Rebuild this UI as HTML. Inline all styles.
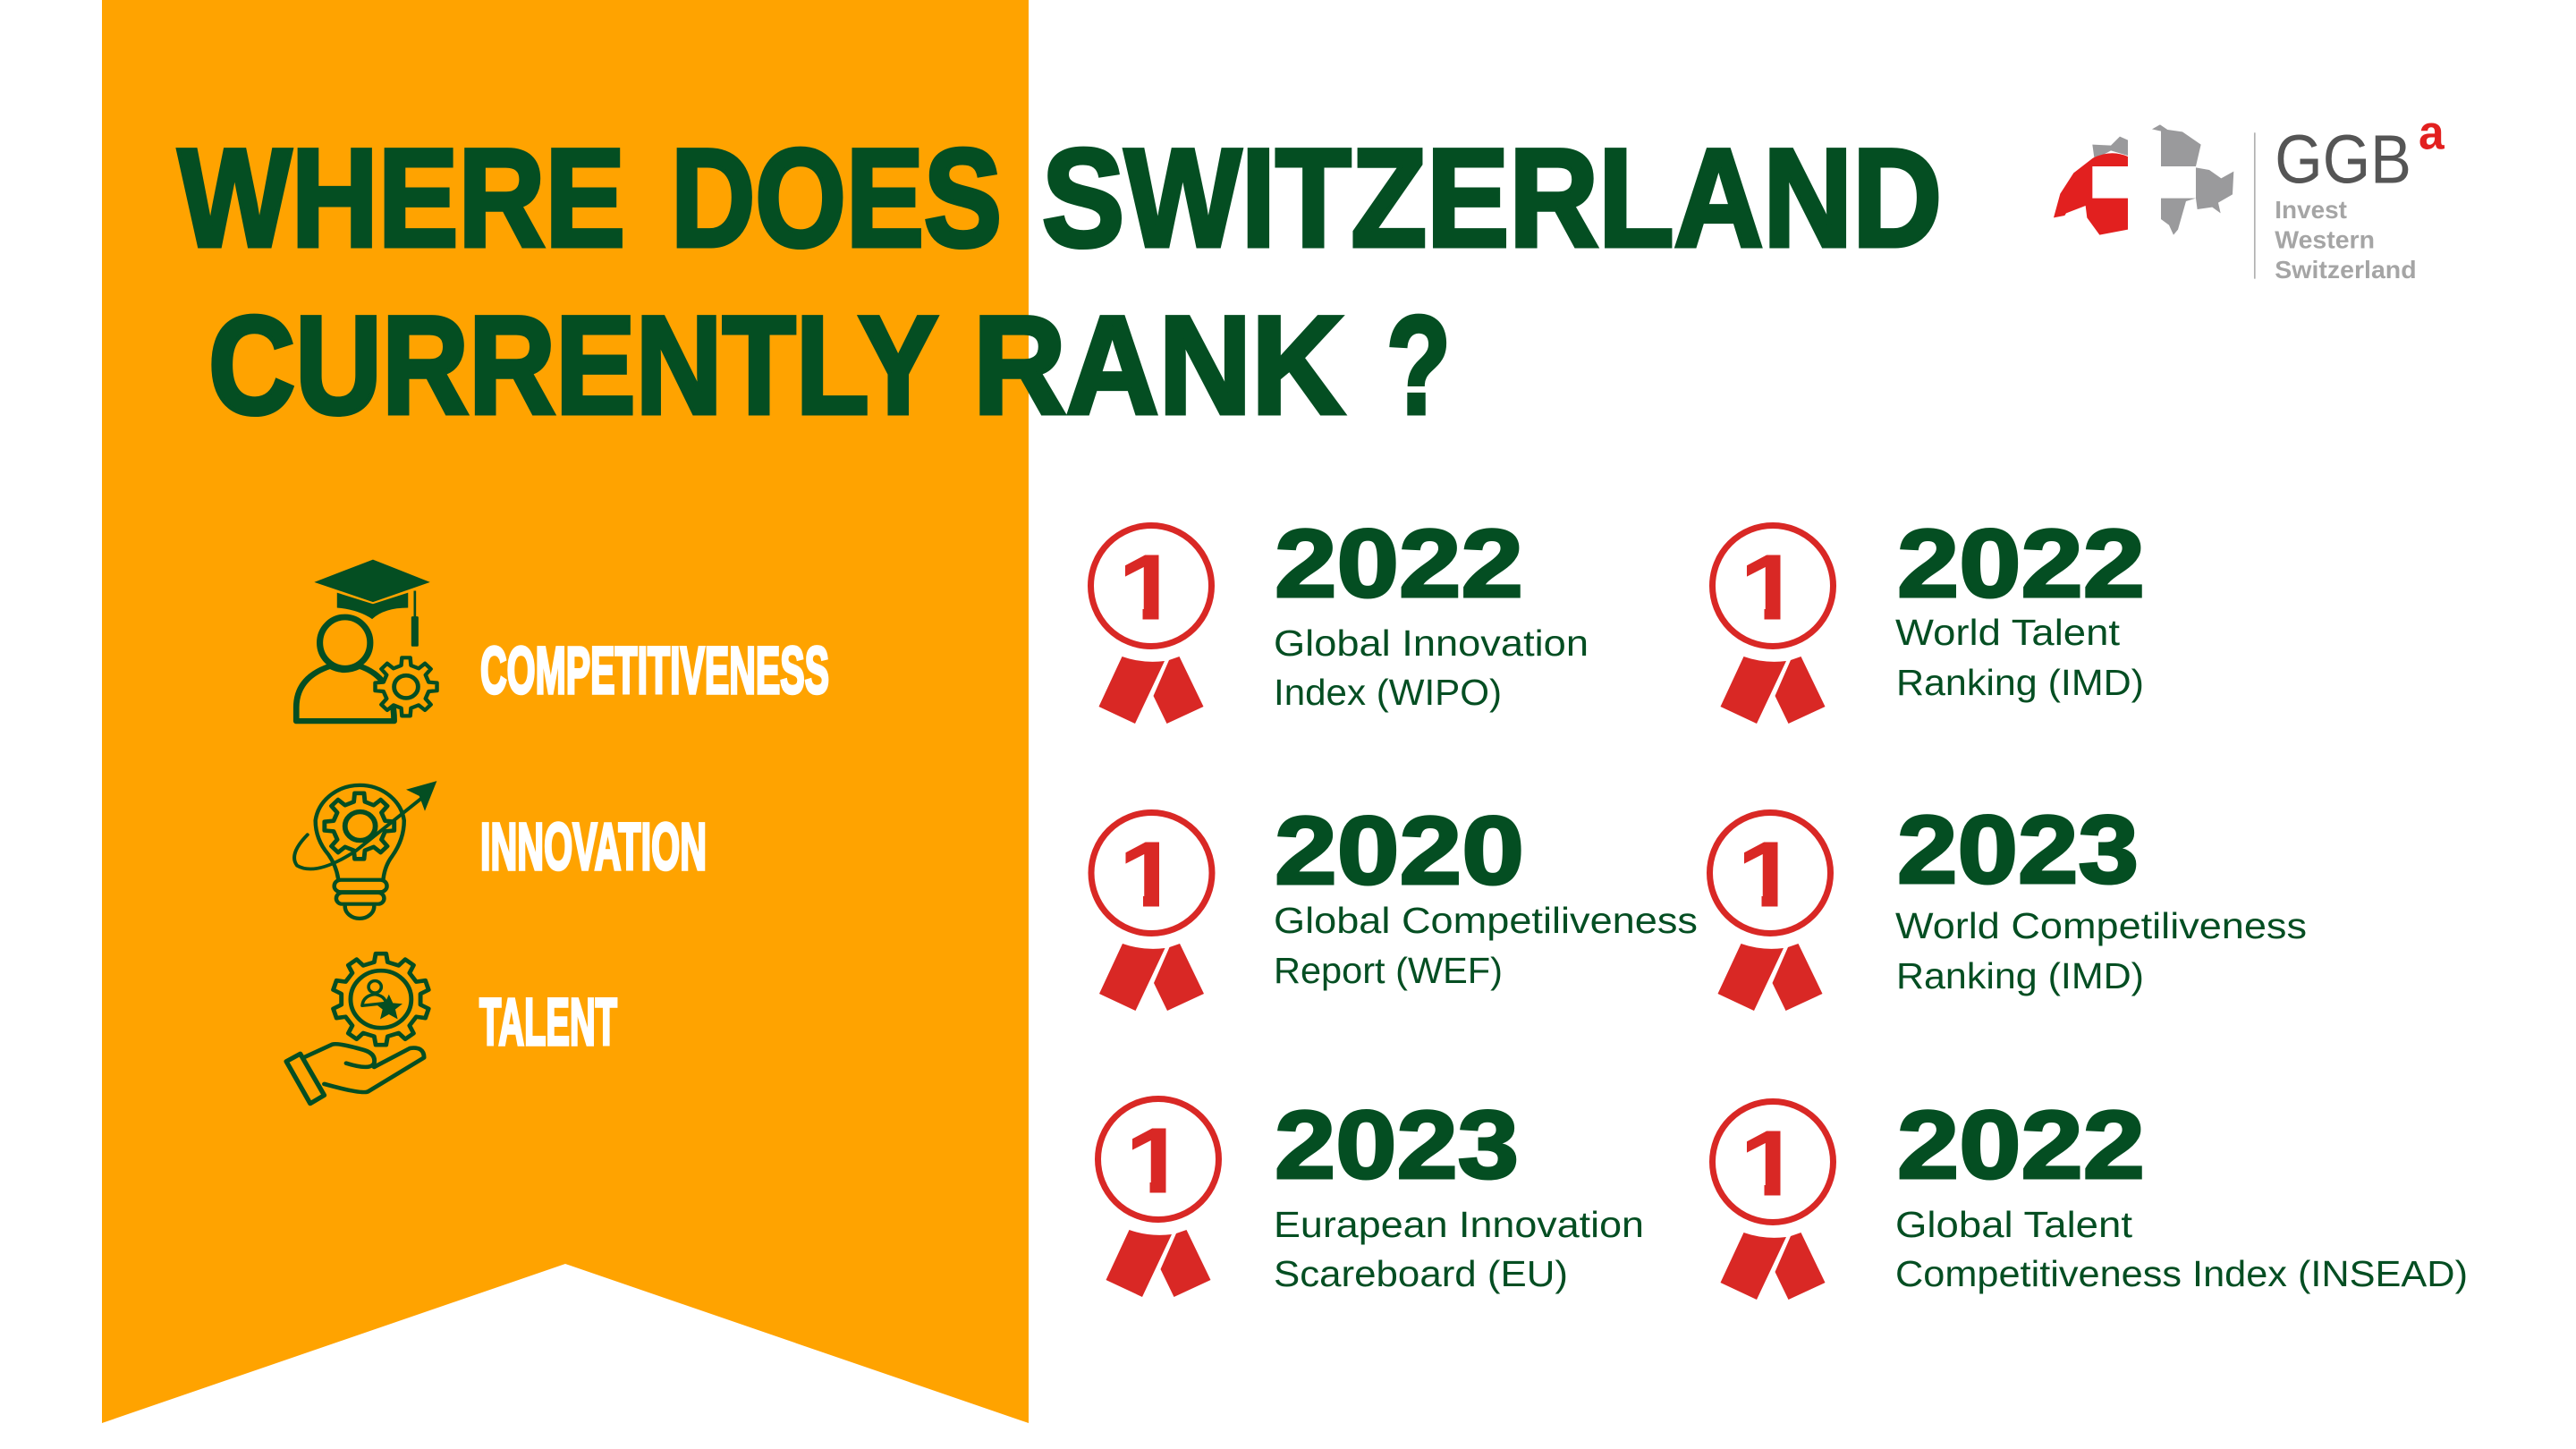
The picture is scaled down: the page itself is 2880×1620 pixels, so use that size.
<!DOCTYPE html>
<html lang="en">
<head>
<meta charset="utf-8">
<title>Where does Switzerland currently rank?</title>
<style>
html,body{margin:0;padding:0;background:#fff;width:2880px;height:1620px;overflow:hidden}
svg{display:block}
text{font-family:"Liberation Sans",sans-serif}
.title{font-weight:700;font-size:156px;fill:#044e22;stroke:#044e22;stroke-width:5px}
.label{font-weight:700;font-size:74px;fill:#fff;stroke:#fff;stroke-width:3.5px}
.year{font-weight:700;font-size:108px;fill:#044e22;stroke:#044e22;stroke-width:3px}
.desc{font-size:41px;fill:#044e22}
.num{font-weight:700;font-size:103px;fill:#d92825;stroke:#d92825;stroke-width:1px}
.line{fill:none;stroke:#044e22;stroke-linecap:round;stroke-linejoin:round}
</style>
</head>
<body>
<svg xmlns="http://www.w3.org/2000/svg" width="2880" height="1620" viewBox="0 0 2880 1620">
<defs>
<clipPath id="oneClip"><polygon points="-30,-42 8.5,-42 8.5,38 -9.5,38 -9.5,-8 -30,-8"/></clipPath>
<g id="medalArt">
<circle cx="0" cy="0" r="67.5" fill="none" stroke="#d92825" stroke-width="7"/>
<path d="M-32.5,79 Q-10,87 15,84 L-18,154 L-58.5,135 Z" fill="#d92825"/>
<path d="M31.5,79 L58.5,135 L17.5,154 L2.5,123 L20,83 Z" fill="#d92825"/>
</g>
</defs>

<rect width="2880" height="1620" fill="#fff"/>
<polygon points="114,0 1150,0 1150,1591 632,1413 114,1591" fill="#ffa300"/>

<g>
<text class="title" x="199" y="275" textLength="500" lengthAdjust="spacingAndGlyphs">WHERE</text>
<text class="title" x="750" y="275" textLength="370" lengthAdjust="spacingAndGlyphs">DOES</text>
<text class="title" x="1165" y="275" textLength="1006" lengthAdjust="spacingAndGlyphs">SWITZERLAND</text>
<text class="title" x="233" y="462" textLength="816" lengthAdjust="spacingAndGlyphs">CURRENTLY</text>
<text class="title" x="1088" y="462" textLength="415" lengthAdjust="spacingAndGlyphs">RANK</text>
<text class="title" x="1550" y="462" textLength="72" lengthAdjust="spacingAndGlyphs">?</text>
</g>

<g transform="translate(2260,110) scale(0.3333)">
<polygon points="238,155 300,158 330,128 357,140 357,192 300,175 245,205" fill="#9a9a9c"/>
<path d="M108,400 L130,320 L175,250 L240,200 Q300,170 357,195 L357,228 L238,228 L238,335 L357,335 L357,440 L262,458 L220,400 L215,360 L150,385 L145,393 Z" fill="#e2201f"/>
<polygon points="438,103 465,88 490,105 540,112 602,155 585,228 468,228 468,110" fill="#9a9a9c"/>
<polygon points="585,232 630,240 670,268 712,245 708,322 660,350 668,385 640,365 590,372 585,335 552,345 525,440 510,458 495,425 468,405 468,335 585,335" fill="#9a9a9c"/>
<rect x="780" y="115" width="5" height="490" fill="#b0b0b0"/>
<text x="850" y="283" font-size="232" fill="#555" textLength="458" lengthAdjust="spacingAndGlyphs">GGB</text>
<text x="1332" y="170" font-size="160" font-weight="700" fill="#e2201f" textLength="86" lengthAdjust="spacingAndGlyphs">a</text>
<text x="850" y="402" font-size="82" font-weight="700" fill="#a5a5a5" textLength="242" lengthAdjust="spacingAndGlyphs">Invest</text>
<text x="850" y="503" font-size="82" font-weight="700" fill="#a5a5a5" textLength="335" lengthAdjust="spacingAndGlyphs">Western</text>
<text x="850" y="603" font-size="82" font-weight="700" fill="#a5a5a5" textLength="475" lengthAdjust="spacingAndGlyphs">Switzerland</text>
</g>

<g transform="translate(300,610) scale(0.4464,0.4209)">
<g>
<polygon points="115,97 262,37 405,97 262,150" fill="#044e22"/>
<path d="M172,125 L262,155 L350,125 L350,165 Q290,165 260,195 Q225,170 172,165 Z" fill="#044e22"/>
<line x1="367" y1="120" x2="367" y2="190" stroke="#044e22" stroke-width="6"/>
<rect x="358" y="188" width="18" height="80" rx="3" fill="#044e22"/>
<ellipse cx="192" cy="258" rx="63" ry="68" fill="none" stroke="#044e22" stroke-width="16"/>
<path class="line" stroke-width="15" d="M70,466 L70,430 Q70,350 155,320 Q190,340 228,320 Q315,350 315,466 Z"/>
<path class="line gear" stroke-width="10" style="fill:#ffa300" data-gear="345,375,78,58,8"/>
<circle cx="345" cy="375" r="30" fill="none" stroke="#044e22" stroke-width="11"/>
</g>
<g>
<path class="line" stroke-width="10" d="M175,885 Q170,850 150,820 Q118,780 118,730 A112,108 0 0 1 340,730 Q340,780 310,825 Q292,850 288,885"/>
<rect x="165" y="888" width="132" height="32" rx="16" class="line" stroke-width="10"/>
<rect x="170" y="922" width="120" height="30" rx="15" class="line" stroke-width="10"/>
<path class="line" stroke-width="10" d="M192,958 A36,32 0 0 0 265,958"/>
<path class="line gear" stroke-width="11" data-gear="228,745,88,66,8"/>
<circle cx="230" cy="745" r="38" fill="none" stroke="#044e22" stroke-width="13"/>
<path class="line" stroke-width="9" d="M98,768 Q50,820 72,850 Q120,880 220,810 L385,670"/>
<polygon points="422,625 345,648 378,665 392,705" fill="#044e22"/>
</g>
<g>
<path class="line gear" stroke-width="11" data-gear="282,1205,122,100,10"/>
<circle cx="282" cy="1205" r="76" fill="none" stroke="#044e22" stroke-width="11"/>
<circle cx="267" cy="1172" r="16" fill="none" stroke="#044e22" stroke-width="8"/>
<path class="line" stroke-width="8" d="M235,1222 Q238,1195 267,1192 Q290,1195 295,1215 L235,1222 Z"/>
<polygon points="302,1192 312,1215 336,1217 318,1232 324,1258 302,1245 280,1258 286,1232 268,1217 292,1215" fill="#044e22"/>
<path class="line" stroke-width="11" d="M88,1360 L160,1325 Q175,1320 240,1340 Q270,1350 265,1375 Q255,1395 195,1375 M265,1385 L355,1335 Q390,1330 390,1360 L250,1450 Q235,1458 140,1430"/>
<polygon class="line" stroke-width="12" points="45,1370 80,1350 140,1460 105,1482"/>
</g>
</g>

<g>
<text class="label" x="537" y="775" textLength="390" lengthAdjust="spacingAndGlyphs">COMPETITIVENESS</text>
<text class="label" x="537" y="972" textLength="253" lengthAdjust="spacingAndGlyphs">INNOVATION</text>
<text class="label" x="536" y="1168" textLength="154" lengthAdjust="spacingAndGlyphs">TALENT</text>
</g>

<g>
<g transform="translate(1287,655)"><use href="#medalArt"/><text class="num" x="-37" y="37" textLength="70" lengthAdjust="spacingAndGlyphs" clip-path="url(#oneClip)">1</text></g>
<text class="year" x="1425" y="667" textLength="278" lengthAdjust="spacingAndGlyphs">2022</text>
<text class="desc" x="1424" y="733" textLength="352" lengthAdjust="spacingAndGlyphs">Global Innovation</text>
<text class="desc" x="1424" y="788" textLength="255" lengthAdjust="spacingAndGlyphs">Index (WIPO)</text>
</g>

<g>
<g transform="translate(1287.5,976)"><use href="#medalArt"/><text class="num" x="-37" y="37" textLength="70" lengthAdjust="spacingAndGlyphs" clip-path="url(#oneClip)">1</text></g>
<text class="year" x="1425" y="988" textLength="279" lengthAdjust="spacingAndGlyphs">2020</text>
<text class="desc" x="1424" y="1043" textLength="474" lengthAdjust="spacingAndGlyphs">Global Competiliveness</text>
<text class="desc" x="1424" y="1099" textLength="256" lengthAdjust="spacingAndGlyphs">Report (WEF)</text>
</g>

<g>
<g transform="translate(1295,1296)"><use href="#medalArt"/><text class="num" x="-37" y="37" textLength="70" lengthAdjust="spacingAndGlyphs" clip-path="url(#oneClip)">1</text></g>
<text class="year" x="1425" y="1317" textLength="273" lengthAdjust="spacingAndGlyphs">2023</text>
<text class="desc" x="1424" y="1383" textLength="414" lengthAdjust="spacingAndGlyphs">Eurapean Innovation</text>
<text class="desc" x="1424" y="1438" textLength="329" lengthAdjust="spacingAndGlyphs">Scareboard (EU)</text>
</g>

<g>
<g transform="translate(1982,655)"><use href="#medalArt"/><text class="num" x="-37" y="37" textLength="70" lengthAdjust="spacingAndGlyphs" clip-path="url(#oneClip)">1</text></g>
<text class="year" x="2121" y="667" textLength="277" lengthAdjust="spacingAndGlyphs">2022</text>
<text class="desc" x="2119" y="721" textLength="251" lengthAdjust="spacingAndGlyphs">World Talent</text>
<text class="desc" x="2120" y="777" textLength="277" lengthAdjust="spacingAndGlyphs">Ranking (IMD)</text>
</g>

<g>
<g transform="translate(1979,976)"><use href="#medalArt"/><text class="num" x="-37" y="37" textLength="70" lengthAdjust="spacingAndGlyphs" clip-path="url(#oneClip)">1</text></g>
<text class="year" x="2121" y="987" textLength="270" lengthAdjust="spacingAndGlyphs">2023</text>
<text class="desc" x="2119" y="1049" textLength="460" lengthAdjust="spacingAndGlyphs">World Competiliveness</text>
<text class="desc" x="2120" y="1105" textLength="277" lengthAdjust="spacingAndGlyphs">Ranking (IMD)</text>
</g>

<g>
<g transform="translate(1982,1299)"><use href="#medalArt"/><text class="num" x="-37" y="37" textLength="70" lengthAdjust="spacingAndGlyphs" clip-path="url(#oneClip)">1</text></g>
<text class="year" x="2121" y="1317" textLength="277" lengthAdjust="spacingAndGlyphs">2022</text>
<text class="desc" x="2119" y="1383" textLength="265" lengthAdjust="spacingAndGlyphs">Global Talent</text>
<text class="desc" x="2119" y="1438" textLength="640" lengthAdjust="spacingAndGlyphs">Competitiveness Index (INSEAD)</text>
</g>
</svg>
<script>
document.querySelectorAll('path[data-gear]').forEach(function (p) {
  var a = p.getAttribute('data-gear').split(',').map(Number);
  var cx = a[0], cy = a[1], R = a[2], r = a[3], n = a[4], d = '';
  for (var i = 0; i < n; i++) {
    var s = 2 * Math.PI / n, t = i * s - Math.PI / 2;
    var pts = [[r, t - s * 0.27], [R, t - s * 0.17], [R, t + s * 0.17], [r, t + s * 0.27]];
    pts.forEach(function (q, j) {
      d += (i === 0 && j === 0 ? 'M' : 'L') + (cx + q[0] * Math.cos(q[1])).toFixed(1) + ',' + (cy + q[0] * Math.sin(q[1])).toFixed(1);
    });
  }
  p.setAttribute('d', d + 'Z');
});
</script>
</body>
</html>
